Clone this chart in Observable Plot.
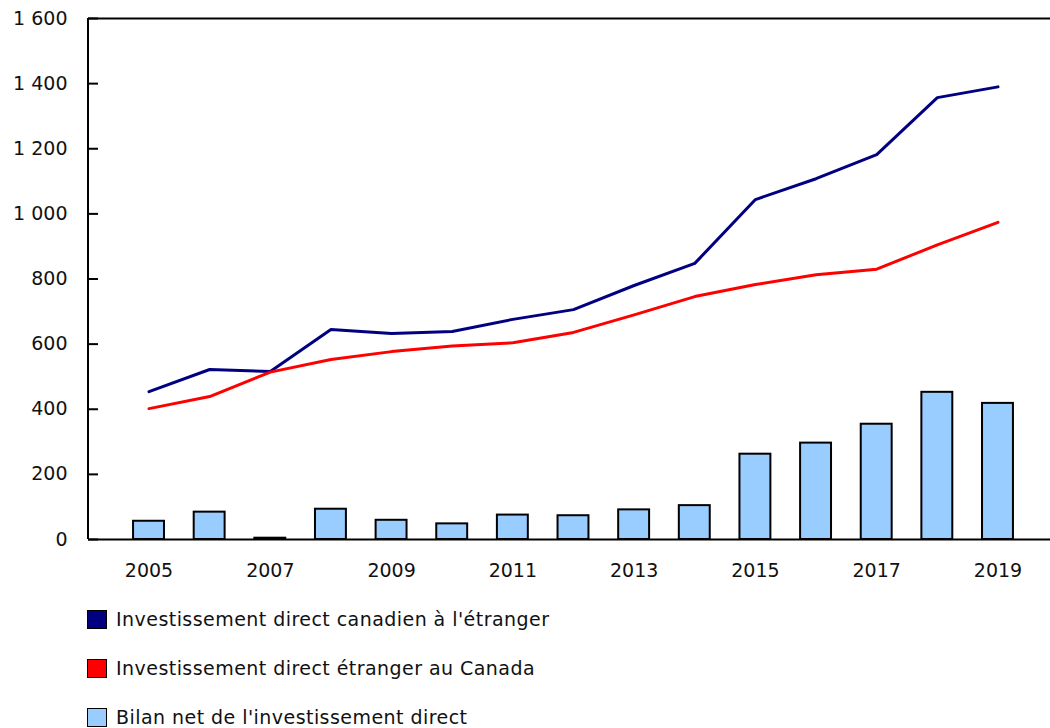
<!DOCTYPE html>
<html><head><meta charset="utf-8">
<script src="https://cdn.jsdelivr.net/npm/d3@7"></script>
<script src="https://cdn.jsdelivr.net/npm/@observablehq/plot@0.6"></script>
<style>
body{margin:0;background:#fff;font-family:"DejaVu Sans",Verdana,sans-serif;}
#legend{margin-left:87px;font-size:19px;letter-spacing:0.45px;color:#111;}
.item{display:flex;align-items:center;height:20px;margin-top:29px;}
.item:first-child{margin-top:19px;}
.sw{width:18px;height:17px;border:1.5px solid #000;margin-right:9px;box-sizing:content-box;flex:none;}
</style></head><body><div id="chart"></div><div id="legend"></div><script>
const years = [2005,2006,2007,2008,2009,2010,2011,2012,2013,2014,2015,2016,2017,2018,2019];
const canadianAbroad = [454,522,516,645,633,639,676,706,780,848,1044,1108,1182,1357,1390];
const foreignInCanada = [402,439,514,553,577,594,604,636,690,746,783,813,830,905,974];
const netPosition = [56,84,4,93,59,48,75,73,91,104,262,296,354,452,418];
const yTicks = [0,200,400,600,800,1000,1200,1400,1600];
const xTickYears = [2005,2007,2009,2011,2013,2015,2017,2019];
const seriesNames = ["Investissement direct canadien à l'étranger","Investissement direct étranger au Canada","Bilan net de l'investissement direct"];
const seriesColors = ["#000080","#ff0000","#99ccff"];

const rows = years.map((y,i)=>({year:y, a:canadianAbroad[i], f:foreignInCanada[i], n:netPosition[i]}));
const fmt = d => d3.format(",")(d).replace(/,/g," ");

// left frame line of the plot area
const leftLine = (index, scales, values, dims) => {
  const g = d3.create("svg:line")
    .attr("x1", dims.marginLeft).attr("x2", dims.marginLeft)
    .attr("y1", dims.marginTop).attr("y2", dims.height - dims.marginBottom)
    .attr("stroke", "#000").attr("stroke-width", 2);
  return g.node();
};

const chart = Plot.plot({
  width:1050, height:590,
  marginLeft:88, marginRight:0, marginTop:18, marginBottom:51,
  style:{fontFamily:"'DejaVu Sans',Verdana,sans-serif", fontSize:"19px", color:"#111", background:"#fff"},
  x:{type:"band", domain:years, range:[118.2,1027.8], paddingInner:0.49, paddingOuter:0.245, round:false},
  y:{domain:[0,1600]},
  marks:[
    Plot.barY(rows,{x:"year", y:"n", fill:seriesColors[2], stroke:"#000", strokeWidth:2}),
    Plot.ruleY([0,1600],{stroke:"#000", strokeWidth:2}),
    leftLine,
    Plot.line(rows,{x:"year", y:"a", stroke:seriesColors[0], strokeWidth:3}),
    Plot.line(rows,{x:"year", y:"f", stroke:seriesColors[1], strokeWidth:3}),
    Plot.axisY({ticks:yTicks, tickSize:-10, text:null, stroke:"#000", strokeWidth:2}),
    Plot.axisY({ticks:yTicks, tickSize:0, tickPadding:21, tickFormat:fmt, label:null}),
    Plot.axisX({ticks:xTickYears, tickSize:0, tickPadding:24, tickFormat:d=>String(d), label:null})
  ]
});
document.getElementById("chart").appendChild(chart);
const lg = document.getElementById("legend");
seriesNames.forEach((name,i)=>{
  const it=document.createElement("div"); it.className="item";
  const sw=document.createElement("span"); sw.className="sw"; sw.style.background=seriesColors[i];
  const tx=document.createElement("span"); tx.textContent=name;
  it.appendChild(sw); it.appendChild(tx); lg.appendChild(it);
});
</script></body></html>
